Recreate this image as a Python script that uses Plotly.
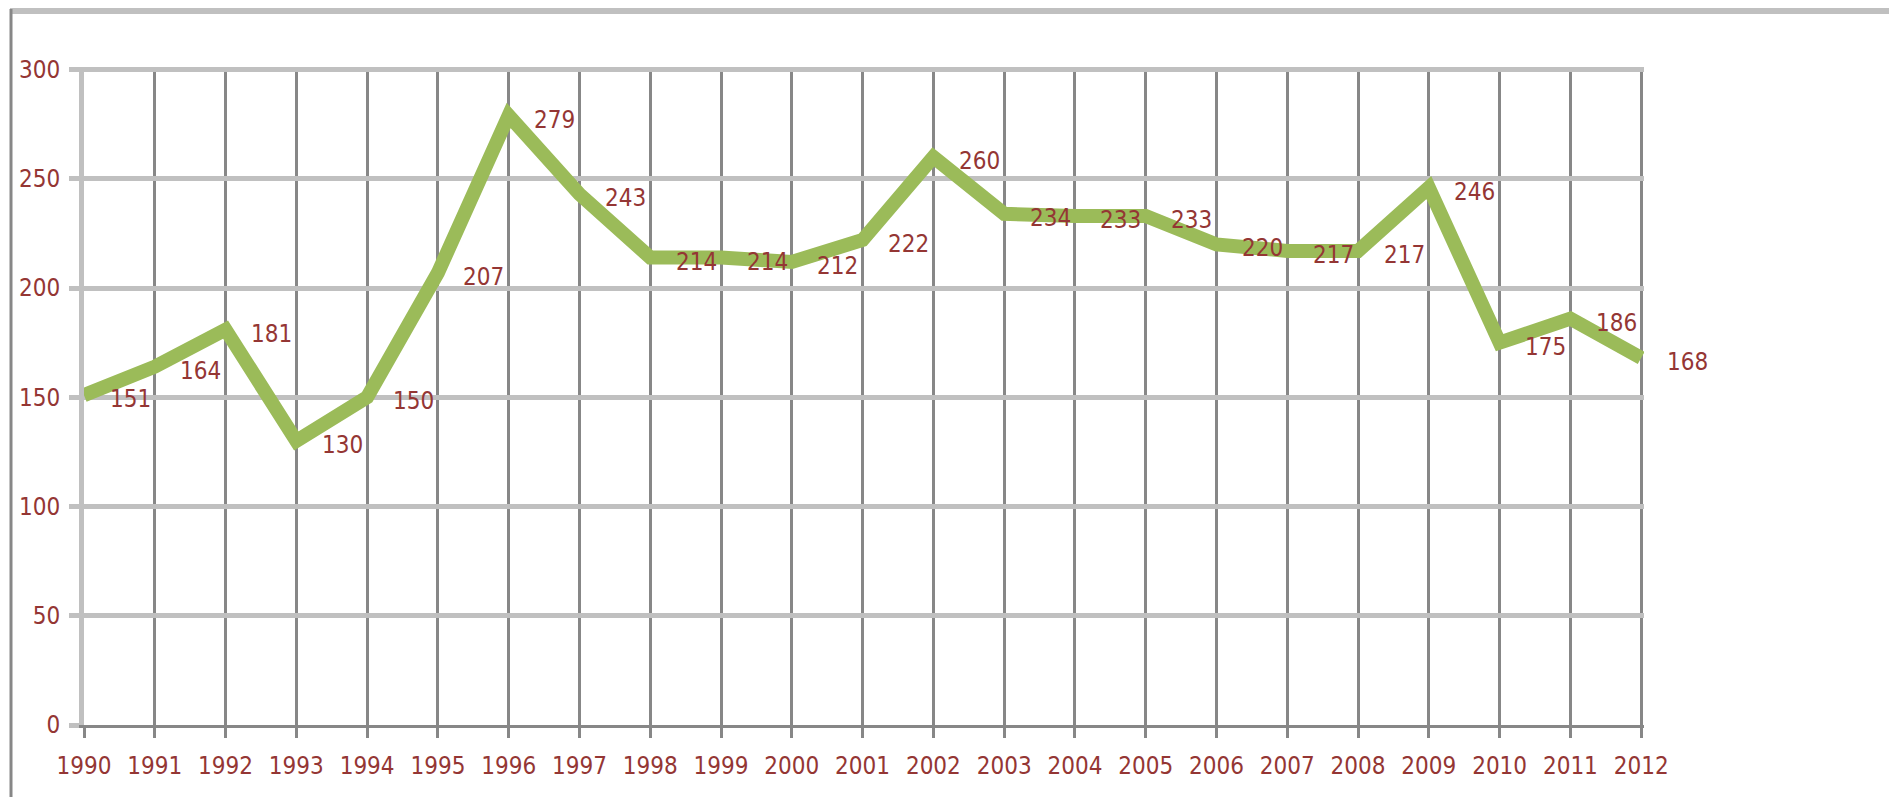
import plotly.graph_objects as go

years = list(range(1990, 2013))
values = [151, 164, 181, 130, 150, 207, 279, 243, 214, 214, 212, 222, 260,
          234, 233, 233, 220, 217, 217, 246, 175, 186, 168]
y_ticks = [0, 50, 100, 150, 200, 250, 300]

# the page body has an 8px margin, so the figure fills the rest of the window
W, H = 1889, 789
L, R, T, B = 76, 253, 59, 72

FONT = "DejaVu Sans Condensed, DejaVu Sans, sans-serif"
FS = 24
LABEL_COLOR = "#943634"
LINE_GREEN = "#9BBB59"
GRID_LIGHT = "#C0C0C0"
GRID_DARK = "#878787"

fig = go.Figure()
fig.add_trace(go.Scatter(
    x=years, y=values, mode="lines",
    line=dict(color=LINE_GREEN, width=14),
    hoverinfo="x+y", showlegend=False,
))

for yr, v in zip(years, values):
    fig.add_annotation(
        x=yr, y=v, text=str(v), showarrow=False,
        xshift=46, yshift=-4,
        font=dict(family=FONT, size=FS, color=LABEL_COLOR),
    )

pw = W - L - R
ph = H - T - B

def px_x(p):
    return (p - L) / pw

def px_y(p):
    return (H - B - p) / ph

# outer frame (top and left edges of the chart area)
fig.add_shape(type="line", xref="paper", yref="paper",
              x0=px_x(2), x1=px_x(W + 5), y0=px_y(3), y1=px_y(3),
              line=dict(color=GRID_LIGHT, width=6), layer="below")
fig.add_shape(type="line", xref="paper", yref="paper",
              x0=px_x(3), x1=px_x(3), y0=px_y(1), y1=px_y(H + 5),
              line=dict(color=GRID_DARK, width=3), layer="below")

fig.update_layout(
    width=W, height=H,
    margin=dict(l=L, r=R, t=T, b=B),
    paper_bgcolor="white", plot_bgcolor="white",
    font=dict(family=FONT, size=FS, color=LABEL_COLOR),
    xaxis=dict(
        range=[1990, 2012.04], tickmode="array", tickvals=years,
        ticktext=[str(y) for y in years],
        showgrid=True, gridcolor=GRID_DARK, gridwidth=3,
        showline=True, linecolor=GRID_DARK, linewidth=3,
        ticks="outside", ticklen=10, tickwidth=3, tickcolor=GRID_DARK,
        zeroline=False, ticklabelstandoff=7,
        tickfont=dict(family=FONT, size=FS, color=LABEL_COLOR),
    ),
    yaxis=dict(
        range=[0, 301.2], tickmode="array", tickvals=y_ticks,
        ticktext=[str(v) for v in y_ticks],
        showgrid=True, gridcolor=GRID_LIGHT, gridwidth=5,
        showline=True, linecolor=GRID_LIGHT, linewidth=5,
        ticks="outside", ticklen=10, tickwidth=5, tickcolor=GRID_LIGHT,
        zeroline=False, ticklabelstandoff=4,
        tickfont=dict(family=FONT, size=FS, color=LABEL_COLOR),
    ),
)

fig.write_html("out.html")
